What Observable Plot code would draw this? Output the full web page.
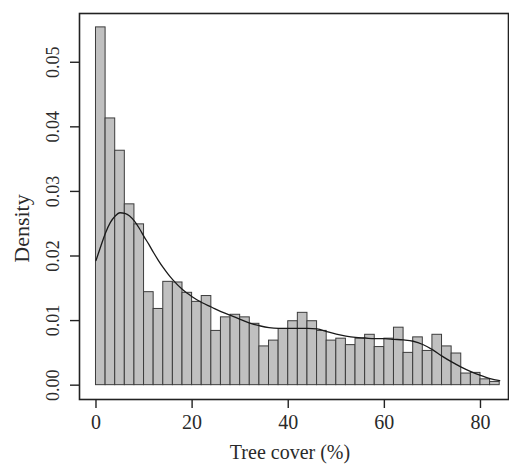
<!DOCTYPE html>
<html><head><meta charset="utf-8">
<script src="https://cdn.jsdelivr.net/npm/d3@7"></script>
<script src="https://cdn.jsdelivr.net/npm/@observablehq/plot@0.6"></script>
<style>body{margin:0;background:#fff}</style>
</head><body><div id="chart"></div>
<script>
const binStarts = [0,2,4,6,8,10,12,14,16,18,20,22,24,26,28,30,32,34,36,38,40,42,44,46,48,50,52,54,56,58,60,62,64,66,68,70,72,74,76,78,80,82];
const binWidth = 2;
const densities = [0.0554,0.0413,0.0363,0.0280,0.0249,0.0144,0.0118,0.0160,0.0159,0.0143,0.0129,0.0138,0.0084,0.0105,0.0109,0.0105,0.0095,0.0060,0.0069,0.0087,
  0.0099,0.0112,0.0099,0.0084,0.0069,0.0072,0.0062,0.0072,0.0078,0.0059,0.0072,0.0089,0.0050,0.0074,0.0053,0.0078,0.0060,0.0049,0.0018,0.0019,0.0009,0.0005];
const curveX = [0,1,2,3,4,5,6,7,8,9,10,11,12,13,14,15,16,18,20,22,24,26,28,30,32,34,36,38,40,42,44,46,48,50,52,54,56,58,60,62,64,66,68,70,72,74,76,78,80,82,84];
const curveY = [0.0193,0.0215,0.0236,0.0252,0.0262,0.0267,0.0266,0.0262,0.0254,0.0243,0.0230,0.0218,0.0205,0.0193,0.0182,0.0172,0.0163,0.0148,0.0137,0.0128,0.0121,0.0114,0.0108,0.0102,0.0096,0.0092,0.0089,0.0088,0.0088,0.0088,0.0088,0.0087,0.0083,0.0079,0.0076,0.0074,0.0073,0.0072,0.0072,0.0071,0.0070,0.0068,0.0063,0.0055,0.0045,0.0036,0.0028,0.0021,0.0015,0.0010,0.0007];
const xTicks = [0,20,40,60,80];
const yTicks = [0,0.01,0.02,0.03,0.04,0.05];
const yTickLabels = ["0.00","0.01","0.02","0.03","0.04","0.05"];
const xLabel = "Tree cover (%)";
const yLabel = "Density";

const bars = binStarts.map((x0,i)=>({x1:x0, x2:x0+binWidth, y:densities[i]}));
const curve = curveX.map((x,i)=>({x, y:curveY[i]}));

const chart = Plot.plot({
  width:509, height:464,
  marginLeft:79, marginRight:1, marginTop:13, marginBottom:65,
  x:{domain:[-3.43,85.83]},
  y:{domain:[-0.00222,0.05755]},
  style:{fontFamily:"'Liberation Serif', serif", background:"#fff", color:"#2a2a2a"},
  marks:[
    Plot.rectY(bars,{x1:"x1",x2:"x2",y1:0,y2:"y",fill:"#c0c0c0",stroke:"#3c3c3c",strokeWidth:1,inset:0}),
    Plot.line(curve,{x:"x",y:"y",curve:"monotone-x",stroke:"#1a1a1a",strokeWidth:1.3}),
    Plot.frame({stroke:"#222",strokeWidth:1.6}),
    Plot.axisX({ticks:xTicks,tickSize:9,tickPadding:6,fontSize:20,label:null,stroke:"#222",strokeWidth:1.4,fill:"#2a2a2a"}),
    Plot.axisY({ticks:yTicks,tickSize:9,tickFormat:()=>"",label:null,stroke:"#222",strokeWidth:1.4}),
    Plot.text(yTicks,{y:d=>d,text:(d,i)=>yTickLabels[i],frameAnchor:"left",dx:-21,rotate:-90,textAnchor:"middle",lineAnchor:"bottom",fontSize:18,fill:"#2a2a2a"}),
    Plot.text([yLabel],{frameAnchor:"left",dx:-51,dy:22,rotate:-90,textAnchor:"middle",lineAnchor:"bottom",fontSize:22,fill:"#2a2a2a"}),
    Plot.text([xLabel],{frameAnchor:"bottom",dx:-4,dy:59,textAnchor:"middle",lineAnchor:"bottom",fontSize:20,fill:"#2a2a2a"})
  ]
});
document.getElementById("chart").appendChild(chart);
</script>
</body></html>
